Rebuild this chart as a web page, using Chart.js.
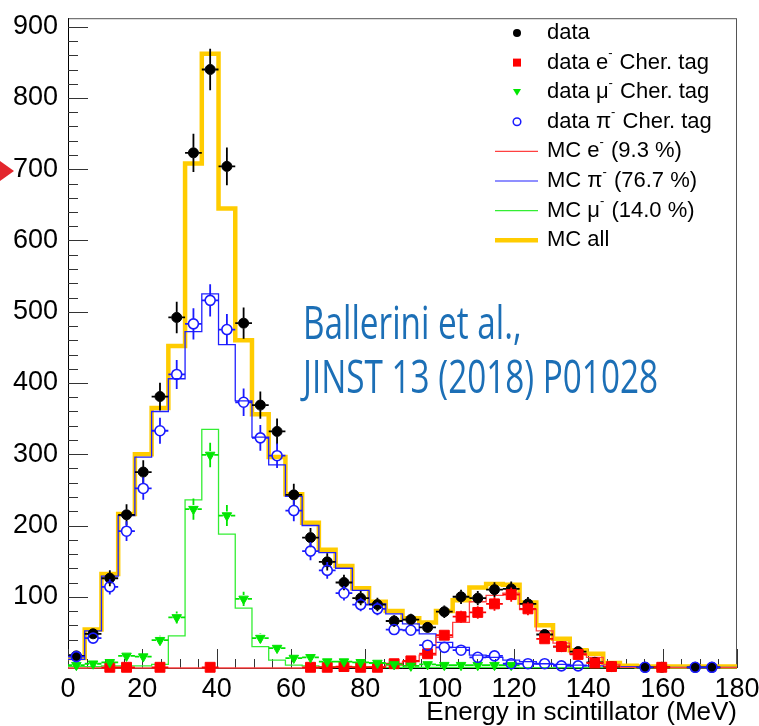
<!DOCTYPE html>
<html>
<head>
<meta charset="utf-8">
<script src="https://cdn.jsdelivr.net/npm/chart.js@4.4.0/dist/chart.umd.min.js"></script>
<style>
html, body { margin: 0; padding: 0; background: #fff; }
#wrap { width: 759px; height: 726px; }
</style>
</head>
<body>
<div id="wrap"><canvas id="energyChart" width="759" height="726"></canvas></div>
<script>
// 40 bins of 4.5 MeV from 0 to 180 MeV
const binWidth = 4.5;
const nBins = 40;

const dataAll = [17, 48, 126, 215, 275, 381, 492, 723, 840, 704,
                 484, 369, 332, 243, 183, 149, 120, 98, 89, 66,
                 68, 57, 79, 100, 98, 110, 111, 90, 47, 30,
                 23, 8, 2, null, 1, 1, null, 1, 1, null];
const dataE = [null, null, 1, 1, null, 1, null, null, 1, null,
               null, null, null, null, 1, 1, 2, 1, 1, 6,
               10, 20, 46, 72, 78, 90, 103, 83, 41, 30,
               19, 7, 2, null, null, 1, null, null, null, null];
const dataMu = [4, 6, 8, 17, 16, 39, 71, 223, 299, 214,
                97, 42, 28, 14, 15, 9, 9, 8, 7, 5,
                3, 5, 4, 4, 4, 4, 4, null, null, null,
                null, null, null, null, null, null, null, null, null, null];
const dataPi = [16, 42, 114, 192, 252, 333, 412, 483, 516, 475,
                373, 323, 298, 221, 164, 137, 105, 89, 83, 54,
                53, 32, 29, 25, 15, 17, 6, 6, 6, 3,
                3, null, null, null, 1, null, null, 1, 1, null];

const mcE = [0, 0, 0, 0, 0, 0, 0, 0, 0, 0,
             0, 0, 0, 0, 0, 1, 1, 1, 2, 4,
             9, 18, 43, 64, 93, 102, 105, 82, 52, 35,
             20, 15, 5, 1, 1, 1, 0.5, 0.5, 0.5, 0.5];
const mcPi = [12, 52, 129, 214, 296, 360, 406, 472, 525, 454,
              375, 324, 285, 241, 200, 162, 140, 109, 90, 76,
              62, 48, 36, 29, 18, 15, 11, 9, 6, 5,
              4, 3, 2, 2, 1, 1, 1, 1, 1, 1];
const mcMu = [2, 2, 3, 3, 3, 5, 45, 236, 335, 188,
              84, 30, 11, 4, 3, 2, 2, 2, 1, 1,
              1, 1, 1, 1, 1, 1, 1, 0.5, 0.5, 0.5,
              0.5, 0.5, 0.5, 0.5, 0.5, 0.5, 0.5, 0.5, 0.5, 0.5];
const mcAll = [14, 54, 132, 216, 300, 365, 452, 708, 862, 645,
               460, 356, 296, 244, 204, 166, 143, 112, 93, 80,
               70, 64, 80, 95, 113, 118, 117, 92, 60, 41,
               25, 20, 7, 3, 2, 2, 2, 2, 2, 2];

const legendLabels = [
  ['data'],
  ['data e', '-', ' Cher. tag'],
  ['data \u03bc', '-', ' Cher. tag'],
  ['data \u03c0', '-', ' Cher. tag'],
  ['MC e', '-', ' (9.3 %)'],
  ['MC \u03c0', '-', ' (76.7 %)'],
  ['MC \u03bc', '-', ' (14.0 %)'],
  ['MC all']
];
const refLines = ['Ballerini et al.,', 'JINST 13 (2018) P01028'];

const edges = Array.from({length: nBins + 1}, (_, i) => i * binWidth);
const centres = edges.slice(0, nBins).map(e => e + binWidth / 2);

function histo(vals) {
  return edges.map((x, i) => ({x: x, y: vals[Math.min(i, vals.length - 1)]}));
}
function points(vals) {
  return centres.map((x, i) => ({x: x, y: vals[i]}));
}

const font = 'Liberation Sans, Arial, sans-serif';
const RED = '#ff0000', GREEN = '#00e600', BLUE = '#1a1aff', YELLOW = '#ffcc00';

function marker(ctx, kind, x, y, r, color) {
  ctx.save();
  ctx.fillStyle = color; ctx.strokeStyle = color;
  ctx.beginPath();
  if (kind === 'dot') { ctx.arc(x, y, r, 0, Math.PI * 2); ctx.fill(); }
  else if (kind === 'square') { ctx.fillRect(x - r, y - r, 2 * r, 2 * r); }
  else if (kind === 'tri') {
    ctx.moveTo(x - r, y - r * 0.8); ctx.lineTo(x + r, y - r * 0.8); ctx.lineTo(x, y + r * 0.9);
    ctx.closePath(); ctx.fill();
  } else if (kind === 'ring') { ctx.lineWidth = 1.5; ctx.arc(x, y, r, 0, Math.PI * 2); ctx.stroke(); }
  ctx.restore();
}

const rootStyle = {
  id: 'rootStyle',
  beforeDatasetsDraw(chart) {
    const {ctx, chartArea: a, scales: {x, y}} = chart;
    ctx.save();
    ctx.lineWidth = 1;
    ctx.strokeStyle = '#555';
    ctx.strokeRect(a.left + 0.5, a.top + 0.5, a.right - a.left - 1, a.bottom - a.top);
    ctx.strokeStyle = '#000';
    ctx.beginPath();
    ctx.moveTo(a.left + 0.5, a.top); ctx.lineTo(a.left + 0.5, a.bottom);
    ctx.moveTo(a.left, a.bottom + 0.5); ctx.lineTo(a.right, a.bottom + 0.5);
    ctx.stroke();
    ctx.strokeStyle = '#333';
    ctx.beginPath();
    for (let v = 0; v <= 900; v += 20) {
      const py = Math.round(y.getPixelForValue(v)) + 0.5;
      ctx.moveTo(a.left, py); ctx.lineTo(a.left + (v % 100 === 0 ? 20 : 10), py);
    }
    for (let v = 0; v <= 180; v += 5) {
      const px = Math.round(x.getPixelForValue(v)) + 0.5;
      ctx.moveTo(px, a.bottom); ctx.lineTo(px, a.bottom - (v % 20 === 0 ? 19 : 9));
    }
    ctx.stroke();
    ctx.restore();
  },
  beforeDatasetDraw(chart, args) {
    const ds = chart.data.datasets[args.index];
    if (!ds.errorBars) return;
    const {ctx, scales: {x, y}} = chart;
    const half = (x.getPixelForValue(binWidth) - x.getPixelForValue(0)) / 2;
    const gap = ds.markerGap;
    ctx.save();
    ctx.strokeStyle = ds.borderColor; ctx.lineWidth = 1.8;
    ctx.beginPath();
    args.meta.data.forEach((pt, i) => {
      const v = ds.data[i].y;
      if (v == null) return;
      const err = Math.sqrt(v);
      const top = y.getPixelForValue(v + err), bot = y.getPixelForValue(Math.max(v - err, 0));
      const px = pt.x, py = pt.y;
      if (py - top > gap) { ctx.moveTo(px, top); ctx.lineTo(px, py - gap); }
      if (bot - py > gap) { ctx.moveTo(px, py + gap); ctx.lineTo(px, bot); }
      ctx.moveTo(px - half, py); ctx.lineTo(px - gap, py);
      ctx.moveTo(px + gap, py); ctx.lineTo(px + half, py);
    });
    ctx.stroke();
    ctx.restore();
  },
  afterDraw(chart) {
    const ctx = chart.ctx;
    ctx.save();
    // legend
    const kinds = [['dot', '#000'], ['square', RED], ['tri', GREEN], ['ring', BLUE],
                   ['line', '#ff4040', 1.2], ['line', '#2020ff', 1.2], ['line', '#33ee33', 1.2], ['line', YELLOW, 4.5]];
    legendLabels.forEach((parts, i) => {
      const ly = 33 + i * 29.6;
      const k = kinds[i];
      if (k[0] === 'line') {
        ctx.strokeStyle = k[1]; ctx.lineWidth = k[2];
        ctx.beginPath(); ctx.moveTo(495, ly); ctx.lineTo(538, ly); ctx.stroke();
      } else {
        marker(ctx, k[0], 517, ly, k[0] === 'ring' ? 3.8 : 4, k[1]);
      }
      let tx = 547;
      ctx.fillStyle = '#000';
      ctx.textBaseline = 'middle';
      parts.forEach((p, j) => {
        const sup = j === 1;
        ctx.font = (sup ? '13px ' : '22px ') + font;
        ctx.fillText(p, tx, sup ? ly - 9 : ly);
        tx += ctx.measureText(p).width + (sup ? 1 : 0);
      });
    });
    // reference text
    ctx.fillStyle = '#1c6fb6';
    ctx.textBaseline = 'alphabetic';
    ctx.font = '45px "Open Sans", sans-serif';
    const sx = 355 / ctx.measureText(refLines[1]).width;
    refLines.forEach((t, i) => {
      ctx.save();
      ctx.translate(303, 339 + i * 54);
      ctx.scale(sx, 1);
      ctx.fillText(t, 0, 0);
      ctx.restore();
    });
    // slide marker arrow
    ctx.fillStyle = '#e3262d';
    ctx.beginPath(); ctx.moveTo(0, 161); ctx.lineTo(14, 171); ctx.lineTo(0, 181); ctx.closePath(); ctx.fill();
    ctx.restore();
  }
};

function pointSet(label, vals, style, color, r, extra) {
  return Object.assign({
    label: label, data: points(vals), showLine: false, errorBars: true,
    borderColor: color, pointStyle: style, pointRadius: r, pointHoverRadius: r,
    pointBackgroundColor: color, pointBorderColor: color, pointBorderWidth: 1,
    markerGap: r, clip: false
  }, extra || {});
}
function histSet(label, vals, color, width) {
  return {
    label: label, data: histo(vals), stepped: 'before', borderColor: color,
    borderWidth: width, pointRadius: 0, pointHoverRadius: 0, fill: false, clip: false
  };
}

const ctx = document.getElementById('energyChart').getContext('2d');
const energyChart = new Chart(ctx, {
  type: 'line',
  data: {
    datasets: [
      pointSet('data \u03c0- Cher. tag', dataPi, 'circle', BLUE, 5,
        {pointBackgroundColor: 'rgba(0,0,0,0)', pointBorderWidth: 1.6}),
      pointSet('data \u03bc- Cher. tag', dataMu, 'triangle', GREEN, 5.5, {rotation: 180, markerGap: 4}),
      pointSet('data e- Cher. tag', dataE, 'rect', RED, 7, {markerGap: 5}),
      pointSet('data', dataAll, 'circle', '#000', 5),
      histSet('MC e- (9.3 %)', mcE, '#ff4040', 1.3),
      histSet('MC \u03bc- (14.0 %)', mcMu, '#33ee33', 1.3),
      histSet('MC \u03c0- (76.7 %)', mcPi, '#2020ff', 1.3),
      histSet('MC all', mcAll, YELLOW, 4.5)
    ]
  },
  options: {
    responsive: false,
    animation: false,
    events: [],
    layout: { padding: { top: 9, right: 22, left: 0, bottom: 0 } },
    plugins: { legend: { display: false }, tooltip: { enabled: false } },
    scales: {
      x: {
        type: 'linear', min: 0, max: 180,
        grid: { display: false }, border: { display: false },
        ticks: { stepSize: 20, padding: -3, maxRotation: 0, autoSkip: false, color: '#000',
                 font: { family: font, size: 27 } },
        title: { display: true, text: 'Energy in scintillator (MeV)', align: 'end', color: '#000',
                 font: { family: font, size: 26, lineHeight: 1 }, padding: { top: 0, bottom: 0 } },
        afterFit: s => { s.height = 58; s.paddingLeft = 0; s.paddingRight = 0; }
      },
      y: {
        min: 0, max: 912,
        grid: { display: false }, border: { display: false },
        ticks: { stepSize: 100, includeBounds: false, padding: 2, color: '#000',
                 font: { family: font, size: 27 },
                 callback: v => (v === 0 ? '' : v) },
        afterFit: s => { s.width = 68; }
      }
    }
  },
  plugins: [rootStyle]
});
</script>
</body>
</html>
